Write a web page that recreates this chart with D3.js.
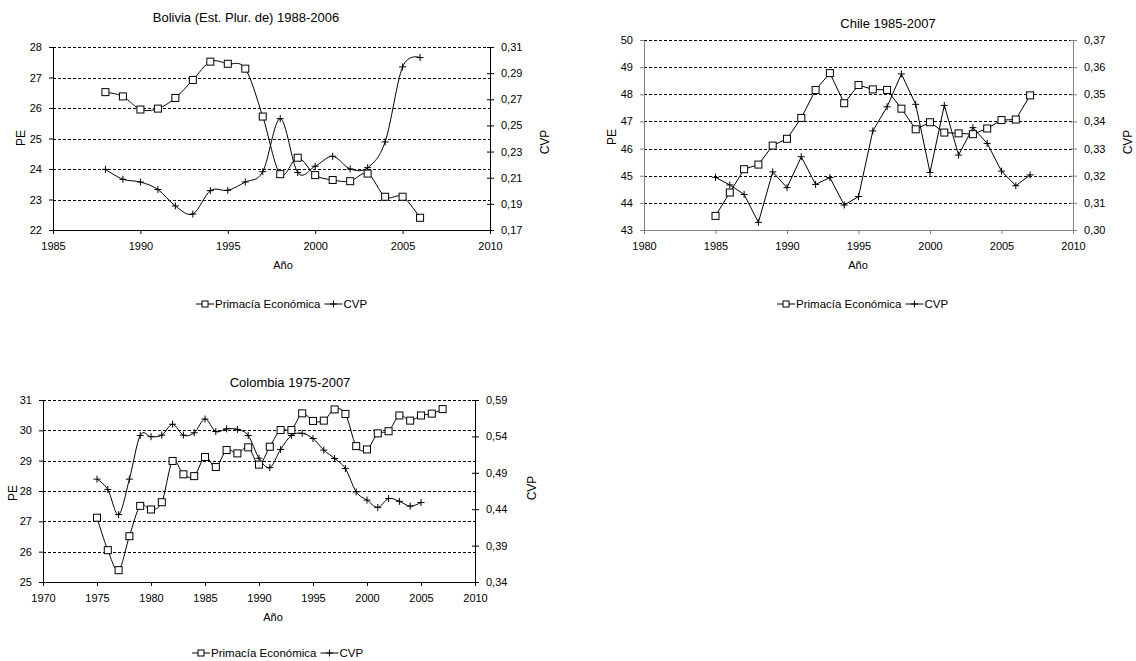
<!DOCTYPE html>
<html><head><meta charset="utf-8">
<script src="https://cdn.jsdelivr.net/npm/d3@7"></script>
<style>
body{margin:0;background:#fff}
text{font-family:"Liberation Sans",Arial,sans-serif;fill:#000}
</style></head>
<body><svg id="c" width="1136" height="661"></svg>
<script>
// ---------- DATA ----------
const bolYears = [1988,1989,1990,1991,1992,1993,1994,1995,1996,1997,1998,1999,2000,2001,2002,2003,2004,2005,2006];
const bolPE    = [26.52,26.38,25.95,25.98,26.33,26.92,27.52,27.45,27.29,25.72,23.83,24.37,23.80,23.64,23.60,23.85,23.09,23.09,22.40];
const bolCVP   = [0.2164,0.2088,0.2067,0.2010,0.1884,0.1822,0.2001,0.2004,0.2067,0.2146,0.2552,0.2140,0.2188,0.2264,0.2167,0.2177,0.2374,0.2948,0.3019];

const chiYears = [1985,1986,1987,1988,1989,1990,1991,1992,1993,1994,1995,1996,1997,1998,1999,2000,2001,2002,2003,2004,2005,2006,2007];
const chiPE    = [43.52,44.38,45.24,45.41,46.11,46.36,47.13,48.16,48.78,47.67,48.34,48.18,48.16,47.47,46.71,46.97,46.59,46.56,46.53,46.74,47.05,47.07,47.96];
const chiCVP   = [0.3194,0.3166,0.3131,0.3028,0.3214,0.3156,0.3270,0.3168,0.3193,0.3092,0.3123,0.3365,0.3454,0.3575,0.3463,0.3212,0.3459,0.3276,0.3377,0.3319,0.3217,0.3163,0.3203];

const colYears = [1975,1976,1977,1978,1979,1980,1981,1982,1983,1984,1985,1986,1987,1988,1989,1990,1991,1992,1993,1994,1995,1996,1997,1998,1999,2000,2001,2002,2003,2004,2005,2006,2007];
const colPE    = [27.12,26.05,25.39,26.51,27.51,27.39,27.63,28.99,28.55,28.49,29.12,28.79,29.35,29.24,29.44,28.87,29.46,30.01,30.01,30.56,30.31,30.32,30.69,30.54,29.48,29.37,29.90,29.97,30.49,30.32,30.49,30.55,30.70];
const colCVPYears = [1975,1976,1977,1978,1979,1980,1981,1982,1983,1984,1985,1986,1987,1988,1989,1990,1991,1992,1993,1994,1995,1996,1997,1998,1999,2000,2001,2002,2003,2004,2005];
const colCVP   = [0.4813,0.4671,0.4326,0.4813,0.5413,0.5396,0.5417,0.5567,0.5417,0.5450,0.5638,0.5467,0.5504,0.5496,0.5413,0.5100,0.4971,0.5221,0.5413,0.5442,0.5371,0.5212,0.5096,0.4958,0.4638,0.4525,0.4425,0.4546,0.4508,0.4442,0.4492];

const bolXTicks = [1985,1990,1995,2000,2005,2010];
const bolPETicks = [22,23,24,25,26,27,28];
const bolCVPTicks = [0.17,0.19,0.21,0.23,0.25,0.27,0.29,0.31];
const chiXTicks = [1980,1985,1990,1995,2000,2005,2010];
const chiPETicks = [43,44,45,46,47,48,49,50];
const chiCVPTicks = [0.30,0.31,0.32,0.33,0.34,0.35,0.36,0.37];
const colXTicks = [1970,1975,1980,1985,1990,1995,2000,2005,2010];
const colPETicks = [25,26,27,28,29,30,31];
const colCVPTicks = [0.34,0.39,0.44,0.49,0.54,0.59];

const titles = ["Bolivia (Est. Plur. de) 1988-2006","Chile 1985-2007","Colombia 1975-2007"];
const legendLabels = ["Primacía Económica","CVP"];
const xTitle = "Año", yLTitle = "PE", yRTitle = "CVP";

// ---------- DRAW ----------
const svg = d3.select("#c");
const fmtC = d => d3.format(".2f")(d).replace(".", ",");

function squareMarker(sel){ sel.append("rect").attr("x",-3.5).attr("y",-3.5).attr("width",7).attr("height",7).attr("fill","#fff").attr("stroke","#000").attr("stroke-width",1); }
function crossMarker(sel){ sel.append("path").attr("d","M-3.5,0H3.5M0,-3.5V3.5").attr("stroke","#000").attr("stroke-width",1); }

function panel(o){
  const g = svg.append("g");
  const x = d3.scaleLinear().domain([o.xTicks[0], o.xTicks[o.xTicks.length-1]]).range([o.left,o.right]);
  const yL = d3.scaleLinear().domain([o.peTicks[0], o.peTicks[o.peTicks.length-1]]).range([o.bottom,o.top]);
  const yR = d3.scaleLinear().domain([o.cvpTicks[0], o.cvpTicks[o.cvpTicks.length-1]]).range([o.bottom,o.top]);

  // gridlines
  g.append("g").selectAll("line").data(o.peTicks.slice(1)).join("line")
    .attr("x1",o.left).attr("x2",o.right).attr("y1",d=>Math.round(yL(d))+0.5).attr("y2",d=>Math.round(yL(d))+0.5)
    .attr("stroke","#000").attr("stroke-width",1).attr("stroke-dasharray","3,2");

  const axisColor = o.axisColor;
  const styleAxis = (a) => {
    a.selectAll("path.domain").attr("stroke",axisColor);
    a.selectAll(".tick line").attr("stroke",axisColor);
    a.selectAll(".tick text").style("font-size","11px").attr("fill","#000");
  };
  const ax = g.append("g").attr("transform",`translate(0,${o.bottom})`)
    .call(d3.axisBottom(x).tickValues(o.xTicks).tickFormat(d3.format("d")).tickSizeInner(4).tickSizeOuter(0).tickPadding(8));
  styleAxis(ax);
  const al = g.append("g").attr("transform",`translate(${o.left},0)`)
    .call(d3.axisLeft(yL).tickValues(o.peTicks).tickFormat(d3.format("d")).tickSizeInner(4).tickSizeOuter(0).tickPadding(7));
  styleAxis(al);
  const ar = g.append("g").attr("transform",`translate(${o.right},0)`)
    .call(d3.axisRight(yR).tickValues(o.cvpTicks).tickFormat(fmtC).tickSizeInner(4).tickSizeOuter(0).tickPadding(7));
  styleAxis(ar);
  ar.selectAll(".tick line").attr("x1",-3);

  const curve = o.smooth ? d3.curveCatmullRom.alpha(0) : d3.curveLinear;
  const lPE = d3.line().x((d,i)=>x(o.peYears[i])).y(d=>yL(d)).curve(curve);
  g.append("path").attr("d",lPE(o.pe)).attr("fill","none").attr("stroke","#000").attr("stroke-width",1);
  const lCVP = d3.line().x((d,i)=>x(o.cvpYears[i])).y(d=>yR(d)).curve(curve);
  g.append("path").attr("d",lCVP(o.cvp)).attr("fill","none").attr("stroke","#000").attr("stroke-width",1);
  g.append("g").selectAll("g").data(o.cvp).join("g")
    .attr("transform",(d,i)=>`translate(${x(o.cvpYears[i])},${yR(d)})`).call(crossMarker);
  g.append("g").selectAll("g").data(o.pe).join("g")
    .attr("transform",(d,i)=>`translate(${x(o.peYears[i])},${yL(d)})`).call(squareMarker);

  // texts
  g.append("text").attr("x",o.titleX).attr("y",o.titleY).attr("text-anchor","middle").style("font-size","13px").text(o.title);
  g.append("text").attr("x",o.xTitleX).attr("y",o.xTitleY).attr("text-anchor","middle").style("font-size","11px").text(xTitle);
  g.append("text").attr("transform",`translate(${o.peLabX},${o.peLabY}) rotate(-90)`).attr("text-anchor","middle").attr("dy","0.35em").style("font-size","12px").text(yLTitle);
  g.append("text").attr("transform",`translate(${o.cvpLabX},${o.cvpLabY}) rotate(-90)`).attr("text-anchor","middle").attr("dy","0.35em").style("font-size","12px").text(yRTitle);

  // legend
  const lg = g.append("g").attr("transform",`translate(${o.legX},${o.legY})`);
  let cx = 0;
  legendLabels.forEach((lab,k)=>{
    lg.append("line").attr("x1",cx).attr("x2",cx+18).attr("y1",0).attr("y2",0).attr("stroke","#000");
    const m = lg.append("g").attr("transform",`translate(${cx+9},0)`);
    if(k===0) m.call(s=>{ s.append("rect").attr("x",-3).attr("y",-3).attr("width",6).attr("height",6).attr("fill","#fff").attr("stroke","#000"); });
    else m.call(crossMarker);
    const t = lg.append("text").attr("x",cx+19).attr("y",0).attr("dy","0.35em").style("font-size","11.5px").text(lab);
    cx += 19 + t.node().getComputedTextLength() + 4;
  });
}

panel({left:53,right:490,top:47,bottom:230,xTicks:bolXTicks,peTicks:bolPETicks,cvpTicks:bolCVPTicks,
  peYears:bolYears,pe:bolPE,cvpYears:bolYears,cvp:bolCVP,smooth:true,axisColor:"#000",
  title:titles[0],titleX:246,titleY:22,xTitleX:283,xTitleY:269,peLabX:21,peLabY:138,cvpLabX:545,cvpLabY:142,legX:196,legY:304});
panel({left:644,right:1073,top:40,bottom:230,xTicks:chiXTicks,peTicks:chiPETicks,cvpTicks:chiCVPTicks,
  peYears:chiYears,pe:chiPE,cvpYears:chiYears,cvp:chiCVP,smooth:false,axisColor:"#808080",
  title:titles[1],titleX:888,titleY:28,xTitleX:858,xTitleY:269,peLabX:612,peLabY:137,cvpLabX:1128,cvpLabY:142,legX:777,legY:304});
panel({left:43,right:475,top:400,bottom:582,xTicks:colXTicks,peTicks:colPETicks,cvpTicks:colCVPTicks,
  peYears:colYears,pe:colPE,cvpYears:colCVPYears,cvp:colCVP,smooth:true,axisColor:"#000",
  title:titles[2],titleX:290,titleY:387,xTitleX:273,xTitleY:621,peLabX:13,peLabY:493,cvpLabX:532,cvpLabY:488,legX:192,legY:653});
</script></body></html>
